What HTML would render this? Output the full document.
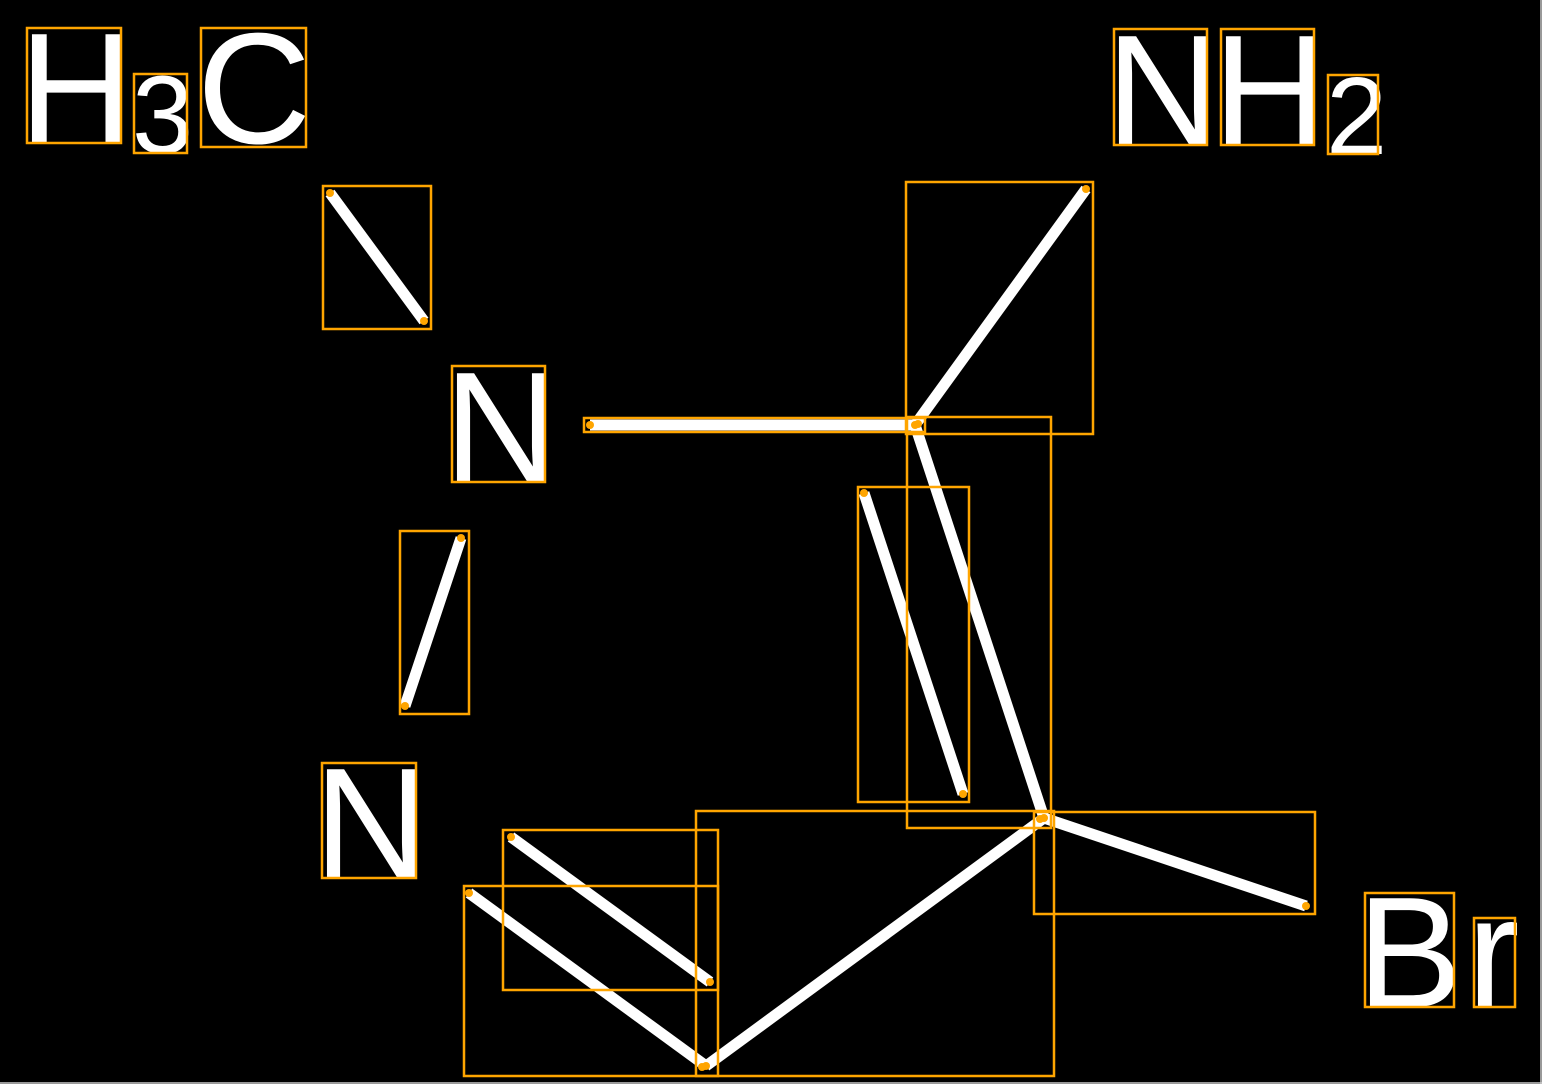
<!DOCTYPE html>
<html><head><meta charset="utf-8"><style>
html,body{margin:0;padding:0;background:#000;}
svg{display:block;}
text{font-family:"Liberation Sans",sans-serif;fill:#fff;}
</style></head><body>
<svg width="1542" height="1084" viewBox="0 0 1542 1084" xmlns="http://www.w3.org/2000/svg">
<rect x="0" y="0" width="1542" height="1084" fill="#000"/>
<line x1="1541" y1="0" x2="1541" y2="1084" stroke="#ccc" stroke-width="1.5"/>
<line x1="0" y1="1083" x2="1542" y2="1083" stroke="#ccc" stroke-width="1.5"/>
<g font-size="158">
<text x="19" y="143">H</text>
<text x="197" y="143">C</text>
<text x="1106" y="145">N</text>
<text x="1213" y="145">H</text>
<text x="444" y="482">N</text>
<text x="314" y="878">N</text>
<text x="1357" y="1007">B</text>
<text x="1467" y="1007">r</text>
</g>
<g font-size="110">
<text x="132" y="153">3</text>
<text x="1326" y="154">2</text>
</g>
<g stroke="#fff" stroke-width="11" stroke-linecap="butt">
<line x1="330" y1="193" x2="424" y2="321"/>
<line x1="590" y1="425" x2="915" y2="425"/>
<line x1="915" y1="425" x2="1086" y2="189"/>
<line x1="915" y1="425" x2="1044" y2="818"/>
<line x1="864" y1="493" x2="963" y2="794"/>
<line x1="461" y1="538" x2="405" y2="706"/>
<line x1="1044" y1="818" x2="1306" y2="906"/>
<line x1="1044" y1="818" x2="706" y2="1066"/>
<line x1="706" y1="1066" x2="469" y2="893"/>
<line x1="511" y1="837" x2="710" y2="982"/>
</g>
<g fill="none" stroke="#FFA500" stroke-width="2.5">
<rect x="27" y="28" width="94" height="115"/>
<rect x="134" y="74" width="53" height="79"/>
<rect x="201" y="28" width="105" height="119"/>
<rect x="1114" y="29" width="93" height="116"/>
<rect x="1221" y="29" width="93" height="116"/>
<rect x="1328" y="75" width="50" height="79"/>
<rect x="452" y="366" width="93" height="116"/>
<rect x="322" y="763" width="94" height="115"/>
<rect x="1365" y="893" width="89" height="114"/>
<rect x="1474" y="918" width="41" height="89"/>
<rect x="323" y="186" width="108" height="143"/>
<rect x="584" y="418" width="341" height="14"/>
<rect x="906" y="182" width="187" height="252"/>
<rect x="907" y="417" width="144" height="411"/>
<rect x="858" y="487" width="111" height="315"/>
<rect x="400" y="531" width="69" height="183"/>
<rect x="1034" y="812" width="281" height="102"/>
<rect x="696" y="811" width="358" height="265"/>
<rect x="464" y="886" width="254" height="190"/>
<rect x="503" y="830" width="215" height="160"/>
</g>
<g fill="#FFA500">
<circle cx="330" cy="193" r="4"/><circle cx="424" cy="321" r="4"/>
<circle cx="590" cy="425" r="4"/><circle cx="915" cy="425" r="4"/>
<circle cx="918" cy="424" r="4"/><circle cx="1086" cy="189" r="4"/>
<circle cx="864" cy="493" r="4"/><circle cx="963" cy="794" r="4"/>
<circle cx="461" cy="538" r="4"/><circle cx="405" cy="706" r="4"/>
<circle cx="1044" cy="818" r="4"/><circle cx="1040" cy="819" r="4"/>
<circle cx="1306" cy="906" r="4"/>
<circle cx="706" cy="1066" r="4"/><circle cx="702" cy="1067" r="4"/>
<circle cx="469" cy="893" r="4"/>
<circle cx="511" cy="837" r="4"/><circle cx="710" cy="982" r="4"/>
</g>
</svg>
</body></html>
